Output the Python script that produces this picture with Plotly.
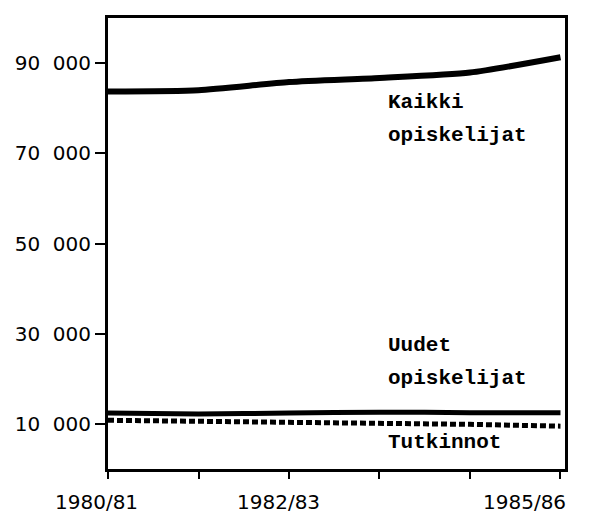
import plotly.graph_objects as go

years = ["1980/81", "1981/82", "1982/83", "1983/84", "1984/85", "1985/86"]
kaikki = [83700, 84000, 85800, 86700, 87900, 91300]
uudet = [12400, 12200, 12400, 12600, 12500, 12500]
tutkinnot = [10800, 10600, 10400, 10200, 9900, 9500]

y_ticks = [10000, 30000, 50000, 70000, 90000]
y_labels = ["10\u00a0 000", "30\u00a0 000", "50\u00a0 000", "70\u00a0 000", "90\u00a0 000"]
x_labels = {"1980/81": -12, "1982/83": -10, "1985/86": -36}

xi = list(range(len(years)))

fig = go.Figure()
fig.add_trace(go.Scatter(x=xi, y=kaikki, mode="lines", line=dict(color="black", width=6, shape="spline", smoothing=0.6)))
fig.add_trace(go.Scatter(x=xi, y=uudet, mode="lines", line=dict(color="black", width=5, shape="spline", smoothing=0.6)))
fig.add_trace(go.Scatter(x=xi, y=tutkinnot, mode="lines", line=dict(color="black", width=5, dash="6px,3px")))

mono = dict(family="Liberation Mono", size=21, color="black", weight="bold")
ann = [
    dict(x=3.07, y=81300, text="Kaikki"),
    dict(x=3.07, y=74000, text="opiskelijat"),
    dict(x=3.07, y=27300, text="Uudet"),
    dict(x=3.07, y=20000, text="opiskelijat"),
    dict(x=3.07, y=5950, text="Tutkinnot"),
]
annotations = [dict(a, xref="x", yref="y", showarrow=False, font=mono, xanchor="left", yanchor="middle") for a in ann]
for lab, shift in x_labels.items():
    annotations.append(dict(x=years.index(lab), y=-0.042, xref="x", yref="paper", text=lab,
                            showarrow=False, xanchor="center", yanchor="top", xshift=shift,
                            font=dict(family="DejaVu Sans", size=20, color="black")))

fig.update_layout(
    width=581, height=510,
    margin=dict(l=98, r=24, t=7, b=49),
    plot_bgcolor="white", paper_bgcolor="white",
    showlegend=False,
    annotations=annotations,
    xaxis=dict(range=[0, 5.05], tickvals=xi, ticktext=[""] * len(xi), ticks="outside", ticklen=7,
               tickwidth=2, tickcolor="black", showgrid=False, zeroline=False,
               showline=True, linecolor="black", linewidth=3, mirror=True),
    yaxis=dict(range=[0, 100000], tickvals=y_ticks, ticktext=y_labels, ticks="outside", ticklen=10,
               tickwidth=2, tickcolor="black", showgrid=False, zeroline=False,
               showline=True, linecolor="black", linewidth=3, mirror=True,
               tickfont=dict(family="DejaVu Sans", size=20, color="black")),
)
fig.write_html("out.html")
